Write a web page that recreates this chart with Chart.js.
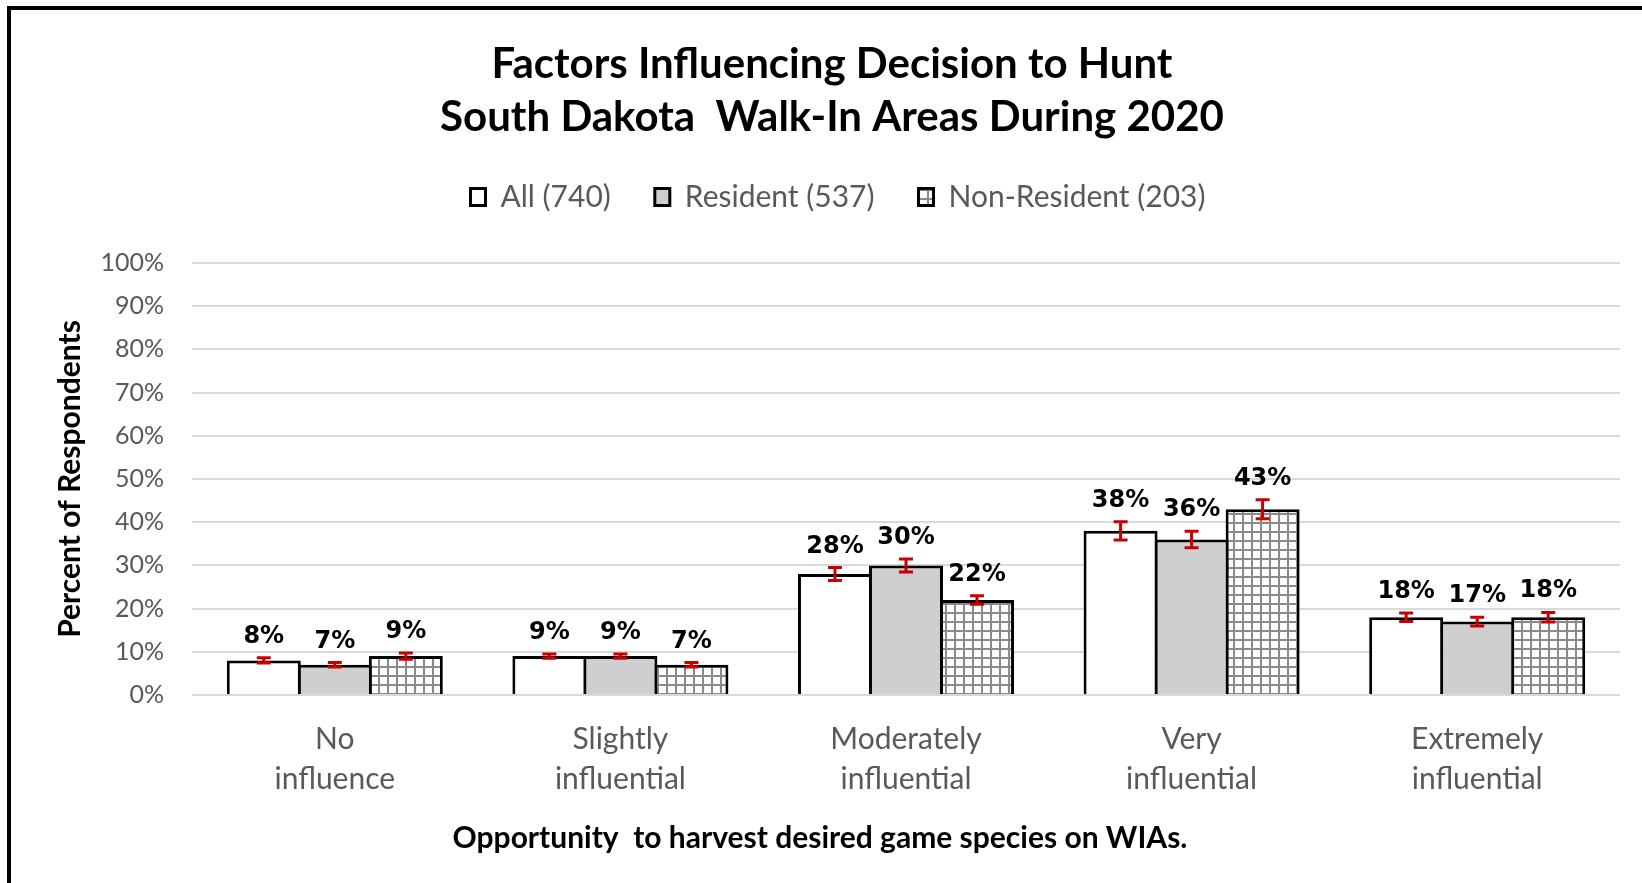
<!DOCTYPE html>
<html>
<head>
<meta charset="utf-8">
<title>Factors Influencing Decision to Hunt</title>
<script src="https://cdn.jsdelivr.net/npm/chart.js@4.4.0/dist/chart.umd.min.js"></script>
<style>
  html, body { margin: 0; padding: 0; background: #fff; }
  #wrap { position: relative; width: 1642px; height: 883px; }
</style>
</head>
<body>
<div id="wrap"><canvas id="chart" width="1642" height="883"></canvas></div>
<script>
// Survey results, percent of respondents per answer
const categories = [
  ['No', 'influence'],
  ['Slightly', 'influential'],
  ['Moderately', 'influential'],
  ['Very', 'influential'],
  ['Extremely', 'influential'],
];
const seriesNames = ['All (740)', 'Resident (537)', 'Non-Resident (203)'];
const allValues = [8, 9, 28, 38, 18];
const residentValues = [7, 9, 30, 36, 17];
const nonResidentValues = [9, 7, 22, 43, 18];
// +/- error margins (percentage points)
const allErrors = [0.6, 0.5, 1.5, 2.1, 1.0];
const residentErrors = [0.5, 0.5, 1.5, 1.9, 1.0];
const nonResidentErrors = [0.7, 0.5, 1.0, 2.2, 1.1];
const yTickStep = 10;
const yMax = 100;

const canvas = document.getElementById('chart');
const ctx = canvas.getContext('2d');

// small square grid fill for the non-resident bars
function gridPattern() {
  const tile = document.createElement('canvas');
  tile.width = 9;
  tile.height = 9;
  const g = tile.getContext('2d');
  g.fillStyle = '#ffffff';
  g.fillRect(0, 0, 9, 9);
  g.fillStyle = '#8a8a8a';
  g.fillRect(0, 0, 2, 9);
  g.fillRect(0, 0, 9, 2);
  return ctx.createPattern(tile, 'repeat');
}

// black frame along the top and left edge
const frame = {
  id: 'frame',
  beforeDraw(chart) {
    const c = chart.ctx;
    c.save();
    c.fillStyle = '#ffffff';
    c.fillRect(0, 0, chart.width, chart.height);
    c.fillStyle = '#000000';
    c.fillRect(7, 6, chart.width - 7, 4);
    c.fillRect(7, 6, 4, chart.height - 6);
    c.restore();
  }
};

// layout.padding.top reserves the gap under the legend; move title and legend back up,
// and shift the full-width blocks sideways to their spots
const TOP_GAP = 35;
function shiftBox(box, dx, dy) {
  if (!box) return;
  box.left += dx; box.right += dx;
  box.top += dy; box.bottom += dy;
}
const nudge = {
  id: 'nudge',
  afterLayout(chart) {
    shiftBox(chart.titleBlock, 22, -TOP_GAP);
    shiftBox(chart.legend, 28, -TOP_GAP - 6);
    const caption = chart.boxes.find(b => !b.axis && b !== chart.titleBlock && b !== chart.legend);
    shiftBox(caption, 10, 0);
  }
};

// red error bars plus the value label above each one
const errorBars = {
  id: 'errorBars',
  afterDatasetsDraw(chart) {
    const c = chart.ctx;
    const y = chart.scales.y;
    chart.data.datasets.forEach((ds, i) => {
      const meta = chart.getDatasetMeta(i);
      meta.data.forEach((bar, j) => {
        const v = ds.data[j];
        const e = ds.errors[j];
        const hi = y.getPixelForValue(v + e);
        const lo = y.getPixelForValue(v - e);
        c.save();
        c.strokeStyle = '#c80000';
        c.lineWidth = 3;
        c.beginPath();
        c.moveTo(bar.x, hi);
        c.lineTo(bar.x, lo);
        c.moveTo(bar.x - 7, hi);
        c.lineTo(bar.x + 7, hi);
        c.moveTo(bar.x - 7, lo);
        c.lineTo(bar.x + 7, lo);
        c.stroke();
        c.fillStyle = '#000000';
        c.font = 'bold 24px "DejaVu Sans"';
        c.textAlign = 'center';
        c.textBaseline = 'alphabetic';
        c.fillText(v + '%', bar.x, hi - 15);
        c.restore();
      });
    });
  }
};

const fills = ['#ffffff', '#d0cfcf', gridPattern()];
const values = [allValues, residentValues, nonResidentValues];
const errors = [allErrors, residentErrors, nonResidentErrors];

const chart = new Chart(ctx, {
  type: 'bar',
  data: {
    labels: categories,
    datasets: seriesNames.map((name, i) => ({
      label: name,
      data: values[i],
      errors: errors[i],
      backgroundColor: fills[i],
      borderColor: '#000000',
      borderWidth: 3,
      categoryPercentage: 0.746,
      barPercentage: 1.042,
    })),
  },
  options: {
    responsive: false,
    animation: false,
    layout: { padding: { left: 0, right: 22, top: TOP_GAP, bottom: 0 } },
    plugins: {
      title: {
        display: true,
        text: ['Factors Influencing Decision to Hunt', 'South Dakota  Walk-In Areas During 2020'],
        color: '#000000',
        font: { family: 'Lato', size: 42, weight: 'bold', lineHeight: 1.262 },
        padding: { top: 38, bottom: 0 },
      },
      legend: {
        display: true,
        position: 'top',
        labels: {
          color: '#595959',
          font: { family: 'Lato', size: 30 },
          boxWidth: 15,
          boxHeight: 17,
          padding: 44,
        },
      },
      // horizontal axis caption, centred under the whole chart
      subtitle: {
        display: true,
        text: 'Opportunity  to harvest desired game species on WIAs.',
        position: 'bottom',
        color: '#000000',
        font: { family: 'Lato', size: 30, weight: 'bold', lineHeight: 1.2 },
        padding: { top: 0, bottom: 27 },
      },
      tooltip: { enabled: false },
    },
    scales: {
      x: {
        grid: { display: false },
        border: { display: false },
        ticks: {
          color: '#595959',
          font: { family: 'Lato', size: 30, lineHeight: 1.333 },
          padding: 16,
          maxRotation: 0,
        },
        afterFit(scale) { scale.height = 125; },
      },
      y: {
        min: 0,
        max: yMax,
        grid: { color: '#d9d9d9', lineWidth: 2, drawTicks: false },
        border: { display: false },
        ticks: {
          stepSize: yTickStep,
          color: '#595959',
          font: { family: 'Lato', size: 25 },
          padding: 28,
          callback: (v) => v + '%',
        },
        title: {
          display: true,
          text: 'Percent of Respondents',
          color: '#000000',
          font: { family: 'Lato', size: 30, weight: 'bold', lineHeight: 1.2 },
          padding: { top: 52, bottom: 0 },
        },
        afterFit(scale) { scale.width = 192; },
      },
    },
  },
  plugins: [frame, nudge, errorBars],
});
</script>
</body>
</html>
